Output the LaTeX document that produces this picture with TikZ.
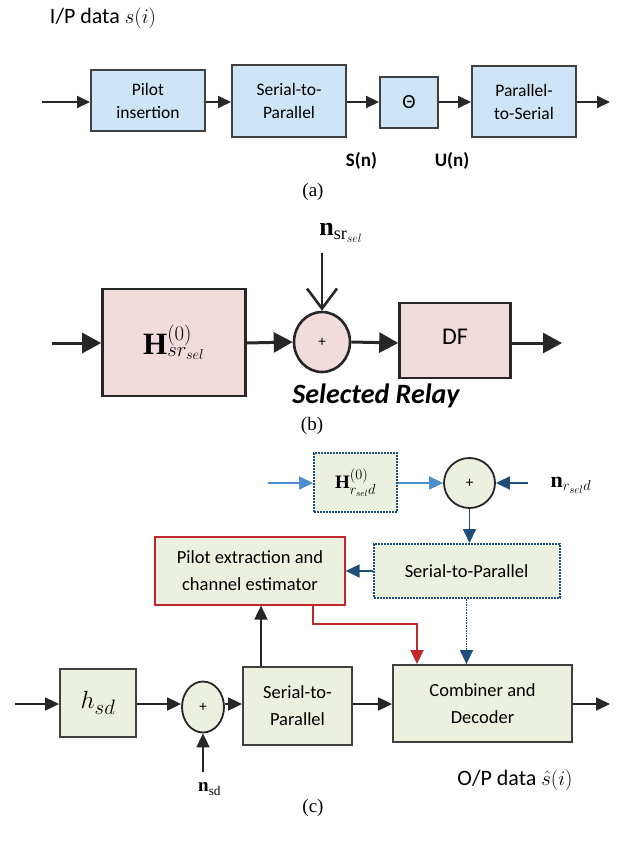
\documentclass[tikz,border=0pt]{standalone}
\usepackage{fontspec}
\setmainfont{Liberation Serif}
\setsansfont{Carlito}
\usetikzlibrary{arrows.meta, shapes.geometric}
\definecolor{myblue}{RGB}{205,229,246}
\definecolor{mypink}{RGB}{242,220,219}
\definecolor{mygreen}{RGB}{235,241,222}
\definecolor{mygray}{RGB}{64,64,64}
\definecolor{mylightblue}{RGB}{74,143,208}
\definecolor{mydarkblue}{RGB}{31,78,121}
\definecolor{myred}{RGB}{192,40,45}

\begin{document}
\begin{tikzpicture}[x=1pt, y=-1pt]
\tikzset{BlockAStyle/.style =
    {draw=mygray, line width=2pt, fill=myblue, font=\sffamily\fontsize{17.5}{23}\selectfont, align=center, inner sep=0pt}
}
\tikzset{BlockBStyle/.style = {draw=black!85, line width=2.6pt, fill=mypink, inner sep=0pt}}
\tikzset{BlockCStyle/.style = {draw=mygray, line width=1.8pt, fill=mygreen, font=\sffamily\fontsize{18.5}{27}\selectfont, align=center, inner sep=0pt}}
\tikzset{DotBlockStyle/.style = {BlockCStyle, draw=mydarkblue, line width=2pt, densely dotted}}
\tikzset{SumStyle/.style = {draw=black!85, shape=ellipse, inner sep=0pt, font=\sffamily\fontsize{15}{15}\selectfont}}
\tikzset{EdgeAStyle/.style = {-{Triangle[length=13pt, width=12pt]}, line width=2pt, black!85}}
\tikzset{EdgeBStyle/.style = {-{Triangle[length=19pt, width=20pt]}, line width=3pt, black!85}}
\tikzset{EdgeCStyle/.style = {-{Triangle[length=14pt, width=13pt]}, line width=1.8pt, black!85}}
\tikzset{CaptionStyle/.style = {font=\fontsize{19}{22}\selectfont}}
\tikzset{DataStyle/.style = {font=\sffamily\fontsize{22}{24}\selectfont, inner sep=0pt}}
\useasboundingbox (0,0) rectangle (623,843);

% (a) transmitter
\node[DataStyle] (ip-label) at (103,18) {I/P data $s\Big(i\Big)$};
\coordinate (a-in) at (42,102);
\node[BlockAStyle, minimum width=114pt, minimum height=61pt] (a-pilot) at (148,100.5) {Pilot\\insertion};
\node[BlockAStyle, minimum width=114pt, minimum height=72pt] (a-s2p) at (289,101) {Serial-to-\\Parallel};
\node[BlockAStyle, minimum width=58pt, minimum height=51pt, font=\sffamily\fontsize{20}{22}\selectfont] (a-theta) at (409,102) {Θ};
\node[BlockAStyle, minimum width=104pt, minimum height=71pt] (a-p2s) at (524,101.5) {Parallel-\\to-Serial};
\coordinate (a-out) at (610,102);
\draw[EdgeAStyle] (a-in) to (a-pilot.west |- a-in);
\draw[EdgeAStyle] (a-pilot.east |- a-in) to (a-s2p.west |- a-in);
\draw[EdgeAStyle] (a-s2p.east |- a-in) to (a-theta.west |- a-in);
\draw[EdgeAStyle] (a-theta.east |- a-in) to (a-p2s.west |- a-in);
\draw[EdgeAStyle] (a-p2s.east |- a-in) to (a-out);
\node[font=\sffamily\bfseries\fontsize{19}{21}\selectfont] (a-sn) at (361.5,161) {S(n)};
\node[font=\sffamily\bfseries\fontsize{19}{21}\selectfont] (a-un) at (452,161) {U(n)};
\node[CaptionStyle] (cap-a) at (313,192) {(a)};

% (b) selected relay
\node[font=\fontsize{26}{28}\selectfont, inner sep=0pt] (b-noise) at (341,233) {$\mathbf{n}_{\mathrm{sr}_{sel}}$};
\coordinate (b-ntop) at (322,253);
\coordinate (b-in) at (52,343);
\node[BlockBStyle, minimum width=143pt, minimum height=107pt, font=\fontsize{31}{33}\selectfont] (b-h) at (174,342.5) {$\mathbf{H}^{(0)}_{sr_{sel}}$};
\node[SumStyle, line width=2.6pt, fill=mypink, minimum width=56pt, minimum height=60pt] (b-sum) at (322,342) {+};
\node[BlockBStyle, minimum width=111pt, minimum height=75pt, font=\sffamily\fontsize{24}{26}\selectfont] (b-df) at (455,340.5) {\raisebox{8pt}{DF}};
\coordinate (b-out) at (562,343);
\draw[EdgeBStyle] (b-in) to (b-h.west |- b-in);
\draw[EdgeBStyle] (b-h.east |- b-in) to (b-sum.west);
\draw[EdgeBStyle] (b-sum.east) to (b-df.west |- b-in);
\draw[EdgeBStyle] (b-df.east |- b-in) to (b-out);
\draw[line width=2.6pt, black!85, -{Straight Barb[length=20pt, width=30pt]}] (b-ntop) to (b-sum.north);
\node[font=\sffamily\bfseries\itshape\fontsize{28}{30}\selectfont] (b-relay) at (376,396) {Selected Relay};
\node[CaptionStyle] (cap-b) at (312,426) {(b)};

% (c) destination
\coordinate (c-rin) at (268,483);
\node[DotBlockStyle, minimum width=83pt, minimum height=59pt, font=\fontsize{19}{21}\selectfont] (c-hrd) at (355.5,482.5) {$\mathbf{H}^{(0)}_{r_{sel}d}$};
\node[SumStyle, line width=1.8pt, fill=mygreen, minimum width=51pt, minimum height=50pt] (c-sumr) at (469.5,483) {+};
\node[font=\fontsize{22}{24}\selectfont, inner sep=0pt] (c-nrd) at (571,485) {$\mathbf{n}_{r_{sel}d}$};
\coordinate (c-nrdstart) at (528,483);
\node[DotBlockStyle, minimum width=186pt, minimum height=54pt] (c-s2pr) at (466.5,571) {Serial-to-Parallel};
\node[BlockCStyle, draw=myred, line width=1.2pt, minimum width=190pt, minimum height=68pt] (c-pilot) at (250,571) {Pilot extraction and\\channel estimator};
\draw[EdgeCStyle, mylightblue] (c-rin) to (c-hrd.west |- c-rin);
\draw[EdgeCStyle, mylightblue] (c-hrd.east |- c-rin) to (c-sumr.west);
\draw[EdgeCStyle, mydarkblue] (c-nrdstart) to (c-sumr.east);
\draw[EdgeCStyle, mydarkblue] (c-sumr.south) to (c-s2pr.north -| c-sumr);
\draw[EdgeCStyle, mydarkblue] (c-s2pr.west) to (c-pilot.east);

\coordinate (c-in) at (15,704);
\node[BlockCStyle, minimum width=76pt, minimum height=68pt, font=\fontsize{28}{30}\selectfont] (c-hsd) at (98,703) {$h_{sd}$};
\node[SumStyle, line width=1.8pt, fill=mygreen, minimum width=42pt, minimum height=51pt] (c-sumd) at (203,707) {+};
\node[BlockCStyle, minimum width=109pt, minimum height=78pt] (c-s2pd) at (297.5,706) {Serial-to-\\Parallel};
\node[BlockCStyle, minimum width=179pt, minimum height=77pt] (c-comb) at (482.5,703.5) {Combiner and\\Decoder};
\coordinate (c-out) at (610,704);
\coordinate (c-nsdstart) at (203,772);
\node[font=\fontsize{19}{21}\selectfont, anchor=west, inner sep=0pt] (c-nsd) at (198,789) {$\mathbf{n}_{\mathrm{sd}}$};
\draw[EdgeCStyle] (c-in) to (c-hsd.west |- c-in);
\draw[EdgeCStyle] (c-hsd.east |- c-in) to (c-sumd.west |- c-in);
\draw[EdgeCStyle] (c-nsdstart) to (c-sumd.south);
\draw[EdgeCStyle] (c-sumd.east |- c-in) to (c-s2pd.west |- c-in);
\draw[EdgeCStyle] (c-s2pd.east |- c-in) to (c-comb.west |- c-in);
\draw[EdgeCStyle] (c-comb.east |- c-in) to (c-out);
\draw[EdgeCStyle] ([xshift=-36.5pt]c-s2pd.north) to ([xshift=-36.5pt]c-s2pd.north |- c-pilot.south);
\draw[EdgeCStyle, myred, line width=1.8pt] ([xshift=63pt]c-pilot.south) -- ++(0,18) -| ([xshift=-65.5pt]c-comb.north);
\draw[EdgeCStyle, mydarkblue, line width=1.6pt, densely dotted] (c-s2pr.south) to (c-s2pr.south |- c-comb.north);
\node[DataStyle] (op-label) at (515,780) {O/P data $\hat{s}\Big(i\Big)$};
\node[CaptionStyle] (cap-c) at (313,808) {(c)};
\end{tikzpicture}
\end{document}
